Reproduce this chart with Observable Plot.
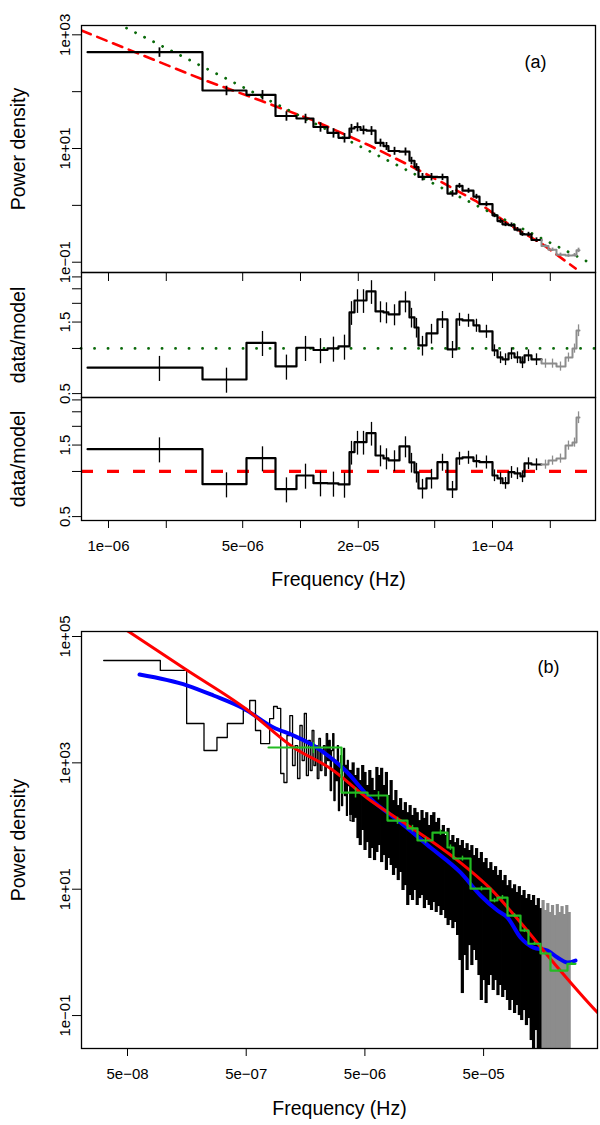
<!DOCTYPE html>
<html><head><meta charset="utf-8">
<script src="https://cdn.jsdelivr.net/npm/d3@7"></script>
<script src="https://cdn.jsdelivr.net/npm/@observablehq/plot@0.6"></script>
<style>
body{margin:0;background:#fff;}
#c{position:relative;width:600px;height:1125px;background:#fff;overflow:hidden;}
#c svg{position:absolute;left:0;}
</style></head><body><div id="c"></div>
<script>
// ---------- Panel (a): binned power spectrum ----------
const binEdgesA = [7.78e-7, 3.088e-6, 5.233e-6, 7.41e-6, 9.53e-6, 1.168e-5, 1.382e-5, 1.577e-5, 1.800e-5, 1.911e-5, 2.054e-5, 2.207e-5, 2.459e-5, 2.706e-5, 2.872e-5, 3.278e-5, 3.695e-5, 3.924e-5, 4.117e-5, 4.530e-5, 5.169e-5, 5.83e-5, 6.494e-5, 6.978e-5, 7.96e-5, 8.556e-5, 1.0e-4, 1.062e-4, 1.127e-4, 1.212e-4, 1.302e-4, 1.399e-4, 1.468e-4, 1.596e-4, 1.800e-4, 1.957e-4, 2.154e-4, 2.400e-4, 2.610e-4, 2.739e-4, 2.839e-4];
const binFreqA = [1.843e-6, 4.117e-6, 6.34e-6, 8.45e-6, 1.062e-5, 1.271e-5, 1.485e-5, 1.695e-5, 1.843e-5, 1.981e-5, 2.129e-5, 2.343e-5, 2.610e-5, 2.804e-5, 3.088e-5, 3.522e-5, 3.785e-5, 4.019e-5, 4.319e-5, 4.812e-5, 5.49e-5, 6.19e-5, 6.73e-5, 7.50e-5, 8.25e-5, 9.30e-5, 1.024e-4, 1.101e-4, 1.169e-4, 1.256e-4, 1.349e-4, 1.433e-4, 1.540e-4, 1.695e-4, 1.888e-4, 2.054e-4, 2.26e-4, 2.487e-4, 2.674e-4, 2.806e-4];
const powerA = [496, 104.8, 87.9, 37.3, 33.7, 23.9, 18.8, 15.4, 22.5, 23.9, 21.2, 20.6, 12.6, 11.0, 9.04, 8.80, 6.09, 4.71, 3.16, 3.16, 3.13, 1.61, 2.21, 1.81, 1.42, 1.05, 0.668, 0.530, 0.464, 0.450, 0.374, 0.313, 0.308, 0.246, 0.192, 0.166, 0.135, 0.131, 0.133, 0.162];
const ratioGreenA = [0.744, 0.621, 1.091, 0.759, 1.011, 0.977, 1.0, 1.031, 1.738, 2.089, 2.089, 2.399, 1.765, 1.738, 1.686, 2.057, 1.61, 1.38, 1.047, 1.259, 1.561, 0.985, 1.561, 1.537, 1.424, 1.298, 0.970, 0.871, 0.845, 0.926, 0.871, 0.807, 0.898, 0.845, 0.794, 0.794, 0.759, 0.871, 1.0, 1.318];
const ratioRedA = [1.408, 0.823, 1.227, 0.762, 0.940, 0.836, 0.832, 0.819, 1.345, 1.568, 1.568, 1.800, 1.278, 1.221, 1.184, 1.468, 1.148, 0.985, 0.770, 0.898, 1.153, 0.759, 1.221, 1.240, 1.171, 1.153, 0.940, 0.898, 0.836, 0.989, 0.970, 0.926, 1.131, 1.113, 1.113, 1.184, 1.221, 1.490, 1.561, 2.291];
const relErrA = [0.19, 0.19, 0.19, 0.19, 0.19, 0.19, 0.19, 0.19, 0.18, 0.18, 0.18, 0.18, 0.16, 0.16, 0.16, 0.16, 0.15, 0.15, 0.15, 0.15, 0.13, 0.13, 0.10, 0.10, 0.10, 0.10, 0.09, 0.09, 0.09, 0.09, 0.09, 0.09, 0.09, 0.09, 0.07, 0.07, 0.07, 0.07, 0.07, 0.09];
const nBlackA = 34; // bins after this are drawn grey
const redModelFreqA = [7.23e-7, 3.01e-6, 6.19e-6, 1.17e-5, 2.29e-5, 3.61e-5, 5.49e-5, 8.26e-5, 1.24e-4, 1.80e-4, 2.71e-4];
const redModelPowA = [1190, 170, 69.8, 31.1, 11.3, 5.24, 2.52, 1.17, 0.443, 0.213, 0.0774];
const greenModelFreqA = [1.0e-6, 3.24e-4];
const greenModelPowA = [1900, 0.096];

const xTicksA = [1e-6, 2e-6, 5e-6, 1e-5, 2e-5, 5e-5, 1e-4, 2e-4];
const xTickLabelsA = ["1e\u221206", "", "5e\u221206", "", "2e\u221205", "", "1e\u221204", ""];
const yTicksA = [0.1, 1, 10, 100, 1000];
const yTickLabelsA = ["1e\u221201", "", "1e+01", "", "1e+03"];
const ratioTicks = [0.5, 1, 1.5, 2, 2.5, 3];
const ratioTickLabels = ["0.5", "", "1.5", "", "", ""];

// ---------- Panel (b): periodogram ----------
const pgDeltaF = 6.3e-8; // frequency resolution of the periodogram
const pgLowPow = [41700, 29000, 4200, 1570, 2520, 4200, 4200, 6740, 9700, 3250, 2020, 2020, 5000, 7800, 7300, 678, 489, 2710, 5610, 908, 1880, 565, 3900, 1090, 6040, 631, 2260, 757, 3250, 908, 1880, 565, 2430, 757, 1570, 1880, 631, 2910, 1090, 2260, 365, 1570, 2910, 253, 1090, 525, 1880, 176, 908, 1306, 211, 757, 1690, 304, 908, 147, 1090, 438, 757, 122];
const bandFreq = [3.80e-6, 3.98e-6, 4.17e-6, 4.37e-6, 4.57e-6, 4.79e-6, 5.01e-6, 5.25e-6, 5.50e-6, 5.75e-6, 6.03e-6, 6.31e-6, 6.61e-6, 6.92e-6, 7.24e-6, 7.59e-6, 7.94e-6, 8.32e-6, 8.71e-6, 9.12e-6, 9.55e-6, 1.000e-5, 1.047e-5, 1.096e-5, 1.148e-5, 1.202e-5, 1.259e-5, 1.318e-5, 1.380e-5, 1.445e-5, 1.514e-5, 1.585e-5, 1.660e-5, 1.738e-5, 1.820e-5, 1.905e-5, 1.995e-5, 2.089e-5, 2.188e-5, 2.291e-5, 2.399e-5, 2.512e-5, 2.630e-5, 2.754e-5, 2.884e-5, 3.020e-5, 3.162e-5, 3.311e-5, 3.467e-5, 3.631e-5, 3.802e-5, 3.981e-5, 4.169e-5, 4.365e-5, 4.571e-5, 4.786e-5, 5.012e-5, 5.248e-5, 5.495e-5, 5.754e-5, 6.026e-5, 6.310e-5, 6.607e-5, 6.918e-5, 7.244e-5, 7.586e-5, 7.943e-5, 8.318e-5, 8.710e-5, 9.120e-5, 9.550e-5, 1.000e-4, 1.047e-4, 1.096e-4, 1.148e-4, 1.202e-4, 1.259e-4, 1.318e-4, 1.380e-4, 1.445e-4, 1.514e-4, 1.585e-4, 1.660e-4, 1.738e-4, 1.820e-4, 1.905e-4, 1.995e-4, 2.089e-4, 2.188e-4, 2.291e-4, 2.399e-4, 2.512e-4, 2.630e-4];
const bandHi = [757, 1000, 631, 820, 525, 908, 705, 438, 757, 568, 365, 846, 631, 820, 438, 705, 304, 525, 253, 365, 211, 272, 176, 235, 163, 211, 147, 190, 163, 122, 176, 132, 163, 102, 147, 163, 114, 132, 84.9, 102, 70.8, 91.6, 59, 70.8, 54.7, 63.3, 49.1, 59, 44, 52.7, 41, 49.1, 34.1, 44, 30.6, 38.1, 26.4, 30.6, 21.2, 26.4, 19.8, 22.8, 16.5, 19.8, 13.7, 16.5, 11.4, 13.7, 10.2, 11.8, 8.86, 11.0, 7.94, 9.53, 7.11, 8.24, 6.62, 7.94, 5.52, 7.11, 4.94, 6.62, 4.60, 5.93, 4.28, 5.52, 3.83, 5.72, 4.28, 5.31, 3.98, 5.52, 4.28];
const bandLo = [147, 114, 132, 63.3, 49.1, 84.9, 41, 54.7, 30.6, 44, 28.4, 38.1, 49.1, 26.4, 34.1, 19.8, 30.6, 23.7, 16.5, 21.2, 13.7, 18.4, 9.53, 11.4, 5.52, 7.94, 6.62, 9.53, 5.52, 7.11, 7.94, 4.94, 6.62, 5.52, 4.6, 6.15, 4.28, 5.31, 3.83, 4.6, 3.43, 2.66, 3.19, 2.38, 2.97, 1.85, 0.743, 0.223, 0.891, 0.516, 1.28, 0.619, 1.07, 0.743, 0.43, 0.173, 0.358, 0.155, 0.299, 0.43, 0.249, 0.358, 0.207, 0.299, 0.193, 0.249, 0.173, 0.12, 0.173, 0.108, 0.144, 0.1, 0.0834, 0.12, 0.0694, 0.0897, 0.0402, 0.02, 0.0579, 0.02, 0.02, 0.02, 0.02, 0.02, 0.02, 0.02, 0.02, 0.02, 0.02, 0.02, 0.02, 0.02, 0.02];
const nBlackBand = 81;
const blueFreqB = [6.31e-8, 1.60e-7, 2.65e-7, 4.75e-7, 8.49e-7, 1.252e-6, 1.845e-6, 2.565e-6, 3.43e-6, 5.57e-6, 9.97e-6, 1.785e-5, 3.19e-5, 4.71e-5, 6.55e-5, 7.95e-5, 1.023e-4, 1.316e-4, 1.727e-4, 2.097e-4, 2.545e-4, 2.972e-4];
const bluePowB = [25000, 16750, 11640, 7247, 3625, 2709, 1882, 1215, 756, 272, 113.6, 45.7, 18.4, 7.94, 4.6, 3.56, 1.72, 1.19, 1.07, 0.829, 0.691, 0.743];
const redFreqB = [3.6e-8, 5.10e-8, 1.60e-7, 4.93e-7, 1.251e-6, 2.565e-6, 5.57e-6, 9.97e-6, 1.785e-5, 3.19e-5, 5.71e-5, 1.023e-4, 1.940e-4, 4.556e-4, 5.86e-4];
const redPowB = [186000, 120000, 29000, 7250, 1750, 813, 253, 122, 59.0, 26.4, 10.2, 2.97, 0.691, 0.112, 0.0695];
const greenEdgesB = [7.71e-7, 3.176e-6, 5.258e-6, 7.75e-6, 1.143e-5, 1.387e-5, 1.856e-5, 2.482e-5, 2.788e-5, 3.879e-5, 5.715e-5, 6.548e-5, 7.95e-5, 1.023e-4, 1.194e-4, 1.508e-4, 1.830e-4, 2.545e-4, 2.972e-4];
const greenPowB = [1750, 339, 304, 122, 91.6, 59, 78.9, 45.7, 30.6, 10.2, 6.62, 7.37, 3.83, 2.22, 1.37, 0.96, 0.516, 0.66];
const greenErrFreqB = [1.845e-6, 4.17e-6, 6.51e-6, 9.41e-6, 1.259e-5, 1.62e-5, 2.167e-5, 2.63e-5, 3.32e-5, 4.80e-5, 6.18e-5, 7.21e-5, 9.1e-5, 1.105e-4, 1.341e-4, 1.66e-4, 2.184e-4, 2.757e-4];
const greenRelErrB = [0.2, 0.18, 0.15, 0.13, 0.12, 0.11, 0.1, 0.1, 0.09, 0.08, 0.08, 0.08, 0.07, 0.07, 0.06, 0.06, 0.05, 0.05];

const xTicksB = [5e-8, 5e-7, 5e-6, 5e-5];
const xTickLabelsB = ["5e\u221208", "5e\u221207", "5e\u221206", "5e\u221205"];
const yTicksB = [0.1, 10, 1000, 100000];
const yTickLabelsB = ["1e\u221201", "1e+01", "1e+03", "1e+05"];

// ---------- helpers ----------
const FONT = '"Liberation Sans", Arial, Helvetica, sans-serif';
const RED = "#ff0000", DKGREEN = "#0a6a0a", GREY = "#8c8c8c";
const TICK_FS = 15, TITLE_FS = 19.5;
function steps(edges, vals, from, to, leadVal) {
  const pts = [];
  if (leadVal != null) pts.push({f: edges[from], v: leadVal});
  for (let i = from; i < to; i++) { pts.push({f: edges[i], v: vals[i]}); pts.push({f: edges[i + 1], v: vals[i]}); }
  return pts;
}
function place(opts, top) {
  const svg = Plot.plot(Object.assign({
    width: 600, marginLeft: 81,
    style: {background: "transparent", overflow: "visible", fontFamily: FONT, fontSize: TICK_FS + "px", color: "black"}
  }, opts));
  svg.style.top = top + "px";
  document.getElementById("c").appendChild(svg);
}
function yAxisMarks(ticks, labels) {
  return [
    Plot.axisY({ticks, tickFormat: () => "", tickSize: 9}),
    Plot.text(ticks, {y: d => d, text: (d, i) => labels[i], frameAnchor: "left", dx: -12, rotate: -90, textAnchor: "middle", lineAnchor: "bottom", fontSize: TICK_FS})
  ];
}
function xAxisMarks(ticks, labels, size) {
  return [
    Plot.axisX({ticks, tickFormat: () => "", tickSize: size}),
    Plot.text(ticks, {x: d => d, text: (d, i) => labels[i], frameAnchor: "bottom", dy: 20, textAnchor: "middle", lineAnchor: "top", fontSize: TICK_FS})
  ];
}
const yTitle = (t) => Plot.text([t], {frameAnchor: "left", dx: -63, rotate: -90, textAnchor: "middle", lineAnchor: "middle", fontSize: TITLE_FS});
const xTitle = (t, dy) => Plot.text([t], {frameAnchor: "bottom", dy, textAnchor: "middle", lineAnchor: "middle", fontSize: TITLE_FS});
const idxA = powerA.map((_, i) => i);
const blackIdx = idxA.filter(i => i < nBlackA), greyIdx = idxA.filter(i => i >= nBlackA);
function binMarks(vals, lw) {
  return [
    Plot.line(steps(binEdgesA, vals, 0, nBlackA), {x: "f", y: "v", stroke: "black", strokeWidth: 2.2}),
    Plot.line(steps(binEdgesA, vals, nBlackA, vals.length, vals[nBlackA - 1]), {x: "f", y: "v", stroke: GREY, strokeWidth: 2}),
    Plot.ruleX(blackIdx, {x: i => binFreqA[i], y1: i => vals[i] * (1 - relErrA[i]), y2: i => vals[i] * (1 + relErrA[i]), stroke: "black", strokeWidth: lw}),
    Plot.ruleX(greyIdx, {x: i => binFreqA[i], y1: i => vals[i] * (1 - relErrA[i]), y2: i => vals[i] * (1 + relErrA[i]), stroke: GREY, strokeWidth: lw})
  ];
}
const xDomA = [7.235e-7, 3.439e-4];

// Panel (a) top: power density
place({
  height: 272, marginTop: 25, marginBottom: 0, marginRight: 5,
  x: {type: "log", domain: xDomA, label: null},
  y: {type: "log", domain: [0.0659, 1459], label: null},
  marks: [
    Plot.line(redModelFreqA.map((f, i) => ({f, v: redModelPowA[i]})), {x: "f", y: "v", stroke: RED, strokeWidth: 2.6, strokeDasharray: "10,7", clip: true}),
    Plot.line(greenModelFreqA.map((f, i) => ({f, v: greenModelPowA[i]})), {x: "f", y: "v", stroke: DKGREEN, strokeWidth: 2.8, strokeDasharray: "0.1,10", strokeLinecap: "round", clip: true}),
    ...binMarks(powerA, 1.8),
    Plot.frame({stroke: "black", strokeWidth: 1.3}),
    Plot.axisX({ticks: xTicksA, tickFormat: () => "", tickSize: 9}),
    ...yAxisMarks(yTicksA, yTickLabelsA),
    Plot.text(["(a)"], {frameAnchor: "top-right", dx: -60, dy: 37, textAnchor: "middle", lineAnchor: "middle", fontSize: 18}),
    yTitle("Power density")
  ]
}, 0);

// Panel (a) middle: data / green model
place({
  height: 125, marginTop: 0, marginBottom: 0, marginRight: 5,
  x: {type: "log", domain: xDomA, axis: null, label: null},
  y: {type: "log", domain: [0.471, 3.21], label: null},
  marks: [
    Plot.ruleY([1], {stroke: DKGREEN, strokeWidth: 2.8, strokeDasharray: "0.1,13.4", strokeLinecap: "round"}),
    ...binMarks(ratioGreenA, 1.3),
    Plot.frame({stroke: "black", strokeWidth: 1.3}),
    ...yAxisMarks(ratioTicks, ratioTickLabels),
    yTitle("data/model")
  ]
}, 272);

// Panel (a) bottom: data / red model
place({
  height: 183, marginTop: 0, marginBottom: 60, marginRight: 5,
  x: {type: "log", domain: xDomA, label: null},
  y: {type: "log", domain: [0.471, 3.113], label: null},
  marks: [
    Plot.ruleY([1], {stroke: RED, strokeWidth: 3.2, strokeDasharray: "12,14"}),
    ...binMarks(ratioRedA, 1.3),
    Plot.frame({stroke: "black", strokeWidth: 1.3}),
    ...xAxisMarks(xTicksA, xTickLabelsA, 8),
    ...yAxisMarks(ratioTicks, ratioTickLabels),
    yTitle("data/model"),
    xTitle("Frequency (Hz)", 59)
  ]
}, 397);

// Panel (b)
const pgPts = pgLowPow.map((v, i) => ({f: (i + 0.5) * pgDeltaF, v}));
pgPts.push({f: (pgLowPow.length + 0.5) * pgDeltaF, v: pgLowPow[pgLowPow.length - 1]});
const bandIdx = bandFreq.map((_, i) => i);
const gIdx = greenPowB.map((_, i) => i);
place({
  height: 525, marginTop: 31, marginBottom: 77, marginRight: 3,
  x: {type: "log", domain: [2.048e-8, 4.556e-4], label: null},
  y: {type: "log", domain: [0.0301, 1.2e5], label: null},
  marks: [
    Plot.line(pgPts, {x: "f", y: "v", curve: "step-after", stroke: "black", strokeWidth: 1.3, clip: true}),
    Plot.ruleX(bandIdx.filter(i => i < nBlackBand), {x: i => bandFreq[i], y1: i => bandLo[i], y2: i => bandHi[i], stroke: "black", strokeWidth: 3.2, clip: true}),
    Plot.ruleX(bandIdx.filter(i => i >= nBlackBand), {x: i => bandFreq[i], y1: i => bandLo[i], y2: i => bandHi[i], stroke: GREY, strokeWidth: 3.2, clip: true}),
    Plot.line(blueFreqB.map((f, i) => ({f, v: bluePowB[i]})), {x: "f", y: "v", curve: "monotone-x", stroke: "#0000ff", strokeWidth: 4, clip: true}),
    Plot.line(redFreqB.map((f, i) => ({f, v: redPowB[i]})), {x: "f", y: "v", curve: "monotone-x", stroke: RED, strokeWidth: 3, clip: true}),
    Plot.line(steps(greenEdgesB, greenPowB, 0, greenPowB.length), {x: "f", y: "v", stroke: "#22bb22", strokeWidth: 2.2, clip: true}),
    Plot.ruleX(gIdx, {x: i => greenErrFreqB[i], y1: i => greenPowB[i] * (1 - greenRelErrB[i]), y2: i => greenPowB[i] * (1 + greenRelErrB[i]), stroke: "#22bb22", strokeWidth: 1.5}),
    Plot.frame({stroke: "black", strokeWidth: 1.3}),
    ...xAxisMarks(xTicksB, xTickLabelsB, 8),
    ...yAxisMarks(yTicksB, yTickLabelsB),
    Plot.text(["(b)"], {frameAnchor: "top-right", dx: -49, dy: 36, textAnchor: "middle", lineAnchor: "middle", fontSize: 18}),
    yTitle("Power density"),
    xTitle("Frequency (Hz)", 60)
  ]
}, 600);
</script></body></html>
